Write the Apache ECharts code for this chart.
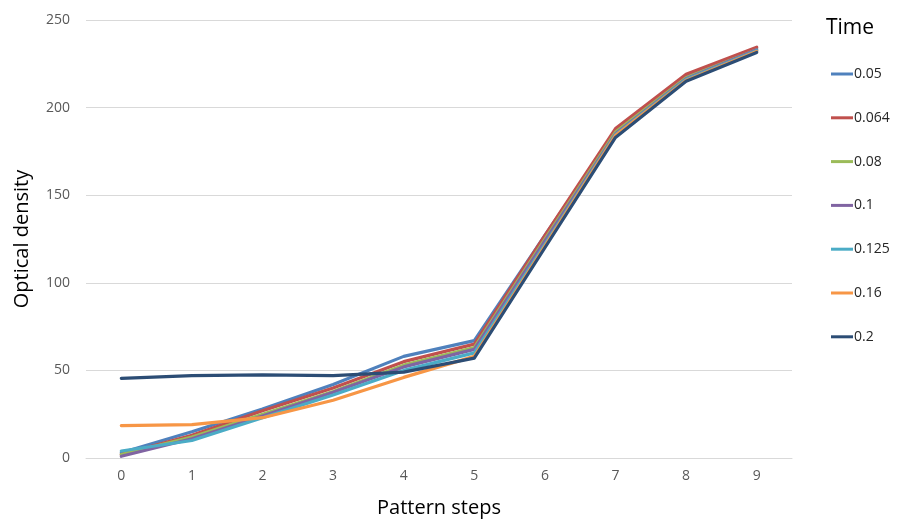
<!DOCTYPE html>
<html>
<head>
<meta charset="utf-8">
<script src="https://cdn.jsdelivr.net/npm/echarts@6/dist/echarts.min.js"></script>
<style>
  html, body { margin: 0; padding: 0; background: #fff; }
  #chart { width: 898px; height: 519px; }
</style>
</head>
<body>
<div id="chart"></div>
<script>
// Pattern steps along the x axis
const steps = ['0', '1', '2', '3', '4', '5', '6', '7', '8', '9'];

// Optical density per exposure time
const t005  = [3, 15, 28, 42, 58, 67, 127, 186, 218, 234];
const t0064 = [2, 13, 27, 40, 55, 65, 127, 188, 219, 234.5];
const t008  = [2, 12, 25, 38, 53, 63, 125, 186, 217, 233];
const t01   = [1, 11, 24, 37.5, 52, 62, 124, 185, 216.5, 233];
const t0125 = [4, 10, 23, 36, 50, 60, 122, 184.5, 216, 232.5];
const t016  = [18.5, 19, 23, 33, 46, 58, 121, 184, 215.5, 232];
const t02   = [45.5, 47, 47.5, 47, 49, 57, 120, 183, 215, 231.5];

const seriesNames = ['0.05', '0.064', '0.08', '0.1', '0.125', '0.16', '0.2'];
const seriesData = [t005, t0064, t008, t01, t0125, t016, t02];
const colors = ['#4F81BD', '#C0504D', '#9BBB59', '#8064A2', '#4BACC6', '#F79646', '#2C4D75'];

const font = '"Open Sans", "Liberation Sans", sans-serif';

const chart = echarts.init(document.getElementById('chart'));
chart.setOption({
  animation: false,
  color: colors,
  textStyle: { fontFamily: font },
  grid: { left: 86, right: 106, top: 20, bottom: 61, containLabel: false, outerBoundsMode: 'none' },
  title: {
    text: 'Time',
    left: 821,
    top: 13,
    textStyle: { fontFamily: font, fontSize: 21, fontWeight: 'normal', color: '#000' }
  },
  legend: {
    orient: 'vertical',
    left: 826,
    top: 62,
    itemWidth: 22,
    itemHeight: 14,
    itemGap: 29.8,
    data: seriesNames.map(n => ({ name: n, icon: 'path://M0,6 L22,6 L22,9 L0,9 Z' })),
    textStyle: { fontFamily: font, fontSize: 14, color: '#262626', padding: [0, 0, 0, -4] }
  },
  xAxis: {
    type: 'category',
    data: steps,
    boundaryGap: true,
    name: 'Pattern steps',
    nameLocation: 'middle',
    nameGap: 40,
    nameTextStyle: { fontFamily: font, fontSize: 20, color: '#000' },
    axisLine: { lineStyle: { color: '#d9d9d9', width: 1 } },
    axisTick: { show: false },
    axisLabel: { fontFamily: font, fontSize: 14, color: '#595959', margin: 11 }
  },
  yAxis: {
    type: 'value',
    min: 0,
    max: 250,
    interval: 50,
    name: 'Optical density',
    nameLocation: 'middle',
    nameGap: 54,
    nameTextStyle: { fontFamily: font, fontSize: 20, color: '#000' },
    axisLine: { show: false },
    axisTick: { show: false },
    axisLabel: { fontFamily: font, fontSize: 14, color: '#595959', margin: 16 },
    splitLine: { lineStyle: { color: '#d9d9d9', width: 1 } }
  },
  series: seriesNames.map((name, i) => ({
    name: name,
    type: 'line',
    data: seriesData[i],
    symbol: 'none',
    lineStyle: { width: 3.2, color: colors[i], join: 'round', cap: 'round' },
    itemStyle: { color: colors[i] }
  }))
});
</script>
</body>
</html>
